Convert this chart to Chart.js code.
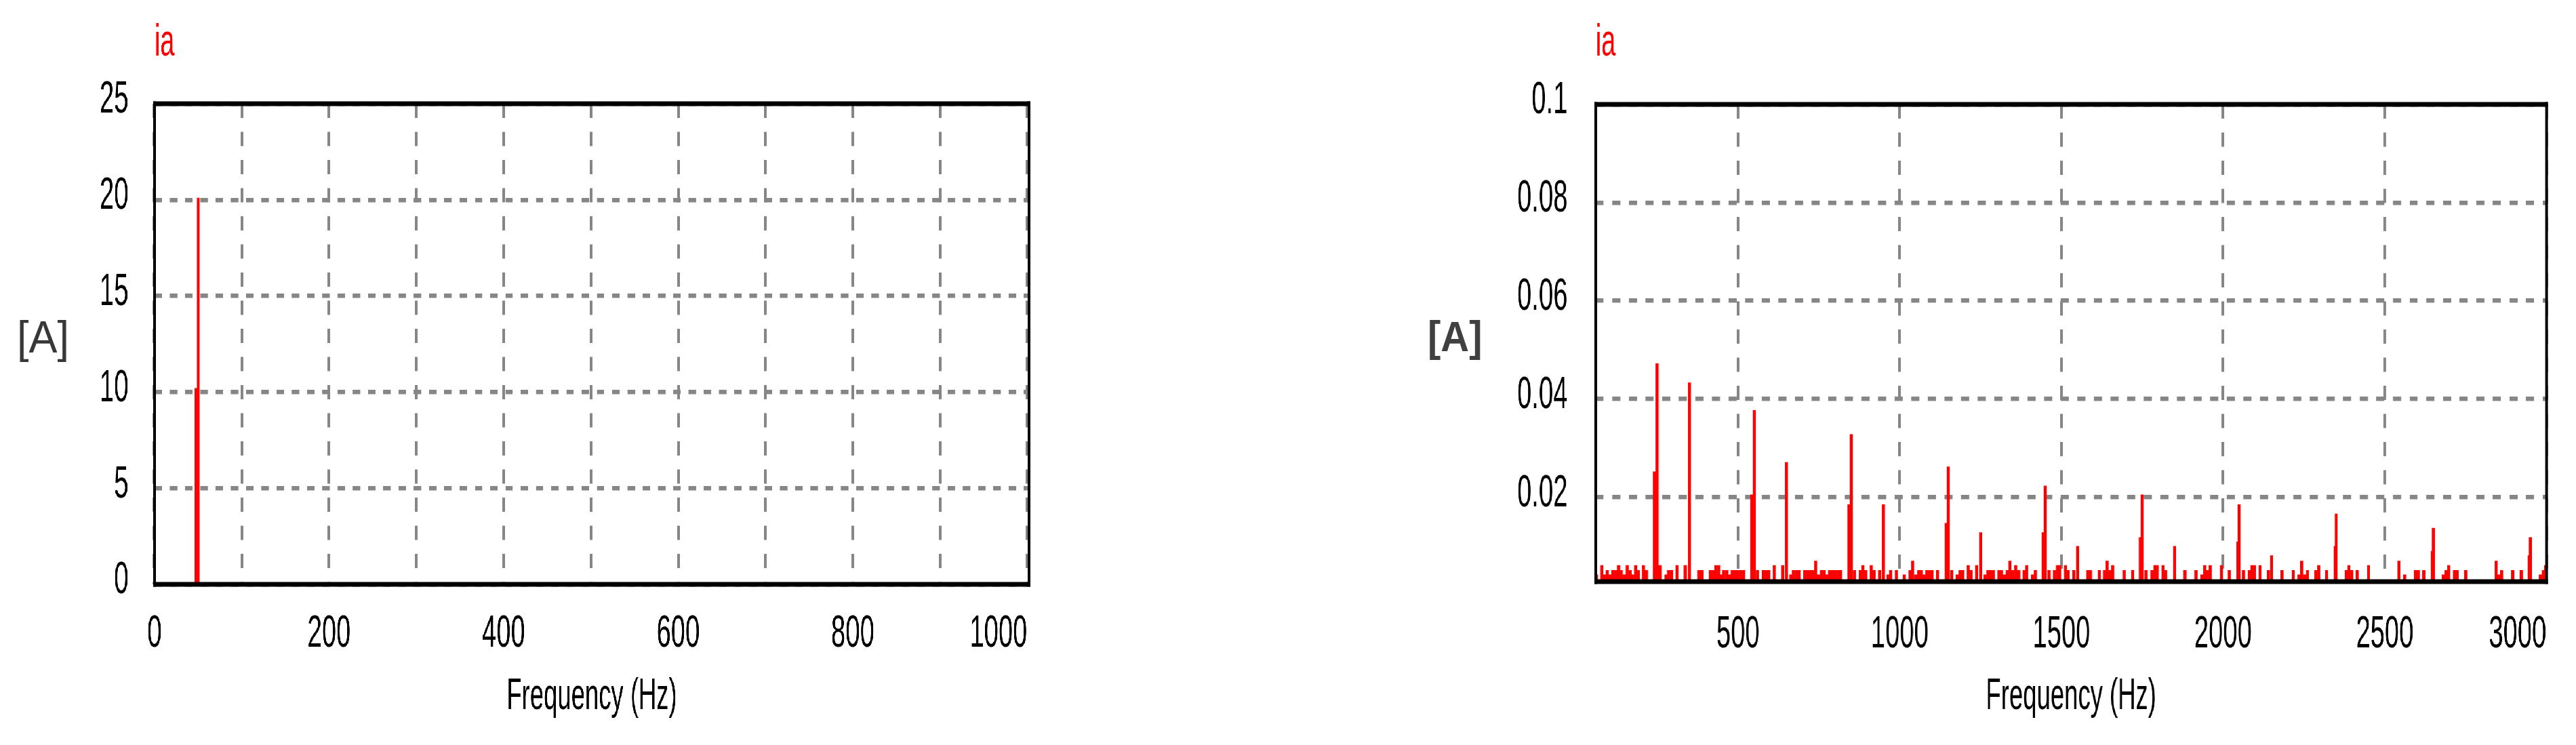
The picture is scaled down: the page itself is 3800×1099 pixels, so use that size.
<!DOCTYPE html>
<html><head><meta charset="utf-8">
<script src="https://cdn.jsdelivr.net/npm/chart.js@4.4.1/dist/chart.umd.min.js"></script>
<style>
html,body{margin:0;padding:0;background:#fff;overflow:hidden;width:3800px;height:1099px;}
#wrap{position:absolute;left:0;top:0;height:1099px;transform-origin:0 0;}
.pane{position:absolute;top:0;height:1099px;}
.unit{position:absolute;font-family:'Liberation Sans',Arial,sans-serif;line-height:1;white-space:nowrap;transform-origin:0 0;}
</style></head><body>
<div id="wrap"><div class="pane" id="p1"><canvas id="c1"></canvas></div><div class="pane" id="p2"><canvas id="c2"></canvas></div></div>
<div class="unit" id="u1"></div><div class="unit" id="u2"></div>
<script>
// ---------------- data ----------------
const titleText = 'ia';
const xTitleText = 'Frequency (Hz)';
const unitText = '[A]';

// left chart: full spectrum 0-1000 Hz
const leftFreqs = [47.3, 50];
const leftAmps  = [10.2, 20.1];
const leftYTickVals  = [0, 5, 10, 15, 20, 25];
const leftYTickText  = ['0', '5', '10', '15', '20', '25'];
const leftXGridVals  = [0, 100, 200, 300, 400, 500, 600, 700, 800, 900, 1000];
const leftXLabelVals = [0, 200, 400, 600, 800, 1000];
const leftXLabelText = ['0', '200', '400', '600', '800', '1000'];

// right chart: harmonics (zoomed)
const peakFreqs = [250, 350, 550, 650, 850, 950, 1150, 1250, 1450, 1550, 1750, 1850, 2050, 2150, 2350, 2650, 2950];
const peakAmps  = [0.0472, 0.0433, 0.0377, 0.0271, 0.0328, 0.0185, 0.0262, 0.0128, 0.0223, 0.0100, 0.0205, 0.0100, 0.0185, 0.0081, 0.0166, 0.0137, 0.0118];
const sideFreqs = [242, 542, 843, 1144, 1444, 1744, 2046, 2347, 2647, 2947];
const sideAmps  = [0.0252, 0.0205, 0.0185, 0.0147, 0.0128, 0.0118, 0.0109, 0.0100, 0.0090, 0.0081];
const noiseFreqs = [62,79,87,96,105,113,122,131,139,148,157,166,174,183,191,208,217,259,277,285,294,311,337,379,388,414,423,431,440,448,456,465,473,482,491,499,508,517,560,578,587,595,612,638,663,671,680,689,706,715,723,732,740,749,758,766,775,783,792,800,809,817,860,878,886,895,912,921,938,964,972,990,1014,1032,1040,
1050,1059,1067,1075,1084,1092,1100,1117,1161,1178,1187,1195,1212,1221,1238,1264,1273,1282,1290,1307,1315,1324,1333,1341,1350,1359,1368,1385,1393,1411,1420,1462,1479,1488,1495,1513,1521,1539,1582,1590,1617,1633,1642,1651,1659,1694,1720,1762,1780,1789,1796,1814,1822,1882,1916,1934,1943,1951,1960,1995,
2019,2063,2081,2089,2097,2114,2140,2182,2217,2235,2243,2252,2261,2287,2296,2320,2381,2389,2398,2415,2450,2544,2562,2595,2604,2621,2681,2690,2698,2716,2724,2751,2845,2854,2862,2896,2922,2982,2991,2998];
const noiseAmps = [0.0042,0.0061,0.0042,0.0051,0.0042,0.0051,0.0051,0.0061,0.0051,0.0042,0.0061,0.0051,0.0042,0.0061,0.0051,0.0061,0.0051,0.0061,0.0042,0.0051,0.0051,0.0061,0.0061,0.0051,0.0051,0.0051,0.0051,0.0061,0.0061,0.0042,0.0051,0.0051,0.0042,0.0051,0.0051,0.0051,0.0051,0.0051,0.0051,0.0051,0.0051,0.0051,0.0061,0.0061,0.0042,0.0051,0.0051,0.0051,0.0051,0.0051,0.0051,0.0051,0.0070,0.0042,0.0051,0.0051,0.0042,0.0051,0.0051,0.0051,0.0051,0.0051,0.0051,0.0051,0.0061,0.0051,0.0061,0.0051,0.0051,0.0042,0.0051,0.0051,0.0042,0.0051,0.0070,
0.0042,0.0051,0.0051,0.0042,0.0051,0.0051,0.0051,0.0051,0.0051,0.0042,0.0051,0.0051,0.0061,0.0051,0.0061,0.0042,0.0051,0.0051,0.0051,0.0051,0.0051,0.0042,0.0051,0.0070,0.0051,0.0061,0.0051,0.0051,0.0061,0.0042,0.0051,0.0051,0.0051,0.0061,0.0061,0.0061,0.0051,0.0051,0.0051,0.0051,0.0051,0.0051,0.0070,0.0051,0.0061,0.0051,0.0051,0.0051,0.0051,0.0061,0.0061,0.0061,0.0051,0.0051,0.0051,0.0042,0.0061,0.0051,0.0061,0.0061,
0.0051,0.0051,0.0051,0.0061,0.0061,0.0061,0.0051,0.0051,0.0051,0.0042,0.0070,0.0042,0.0051,0.0051,0.0061,0.0051,0.0051,0.0061,0.0051,0.0051,0.0061,0.0070,0.0042,0.0051,0.0051,0.0051,0.0042,0.0051,0.0061,0.0051,0.0051,0.0051,0.0070,0.0042,0.0051,0.0051,0.0051,0.0042,0.0051,0.0061];
const rightYTickVals  = [0.02, 0.04, 0.06, 0.08, 0.1];
const rightYTickText  = ['0.02', '0.04', '0.06', '0.08', '0.1'];
const rightXGridVals  = [60, 500, 1000, 1500, 2000, 2500, 3000];
const rightXLabelVals = [500, 1000, 1500, 2000, 2500, 3000];
const rightXLabelText = ['500', '1000', '1500', '2000', '2500', '3000'];

// ---------------- layout / style ----------------
const K = 0.57;                 // horizontal compression of the drawing
const W = 3800, H = 1099;
const FONT = "'Liberation Sans', Arial, sans-serif";
const RED = '#ff0000';
const GRID = '#868686';

const wrap = document.getElementById('wrap');
wrap.style.width = (W / K) + 'px';
wrap.style.transform = 'scaleX(' + K + ')';
const p1 = document.getElementById('p1'), p2 = document.getElementById('p2');
p1.style.left = '0px'; p1.style.width = (1900 / K) + 'px';
p2.style.left = (1900 / K) + 'px'; p2.style.width = (1900 / K) + 'px';

const u1 = document.getElementById('u1');
u1.textContent = unitText;
Object.assign(u1.style, {left: '25px', top: '463px', fontSize: '67px', color: '#383838', transform: 'scaleX(0.94)'});
const u2 = document.getElementById('u2');
u2.textContent = unitText;
Object.assign(u2.style, {left: '2106px', top: '465px', fontSize: '63px', fontWeight: 'bold', color: '#404040', transform: 'scaleX(0.92)'});

const framePlugin = {
  id: 'frame',
  afterDraw(chart) {
    const {ctx, chartArea: a} = chart;
    const hw = 7, vw = 4 / K;
    ctx.save();
    ctx.fillStyle = '#000';
    ctx.fillRect(a.left - vw / 2, a.top - hw / 2, a.right - a.left + vw, hw);
    ctx.fillRect(a.left - vw / 2, a.bottom - hw / 2, a.right - a.left + vw, hw);
    ctx.fillRect(a.left - vw / 2, a.top - hw / 2, vw, a.bottom - a.top + hw);
    ctx.fillRect(a.right - vw / 2, a.top - hw / 2, vw, a.bottom - a.top + hw);
    ctx.restore();
  }
};

function pts(xs, ys) { return xs.map((x, i) => ({x: x, y: ys[i]})); }

function build(id, o) {
  return new Chart(document.getElementById(id), {
    type: 'bar',
    data: { datasets: o.datasets.map(d => ({
      data: d, backgroundColor: RED, borderWidth: 0, barThickness: o.barW, grouped: false
    })) },
    options: {
      responsive: true, maintainAspectRatio: false, animation: false, devicePixelRatio: 1,
      layout: { padding: { left: o.padL, right: o.padR, top: 0, bottom: 0 } },
      plugins: {
        legend: { display: false }, tooltip: { enabled: false },
        title: { display: true, fullSize: false, text: titleText, align: 'start', color: RED,
          font: { family: FONT, size: 66, weight: 'normal' },
          padding: { top: 24.5, bottom: o.top - 24.5 - 66 * 1.2 } }
      },
      scales: {
        x: {
          type: 'linear', min: o.xMin, max: o.xMax, offset: false, bounds: 'data',
          afterBuildTicks: s => { s.ticks = o.xTicks.map(v => ({ value: v })); },
          afterFit: s => { s.height = H - o.bottom; },
          grid: { offset: false, drawTicks: false, color: GRID, lineWidth: 4 / K },
          border: { display: false, dash: [21, 20.5] },
          ticks: {
            autoSkip: false, maxRotation: 0, minRotation: 0, align: 'inner', padding: o.xPad,
            color: '#000', font: { family: FONT, size: 67 },
            callback: v => { const i = o.xLabelVals.indexOf(v); return i >= 0 ? o.xLabelText[i] : ''; }
          },
          title: { display: true, text: xTitleText, color: '#000',
            font: { family: FONT, size: 64 }, padding: { top: 0, bottom: 32 } }
        },
        y: {
          type: 'linear', min: o.yMin, max: o.yMax, bounds: 'data',
          afterBuildTicks: s => { s.ticks = o.yVals.map(v => ({ value: v })); },
          afterFit: s => { s.width = o.yW; },
          grid: { drawTicks: false, color: GRID, lineWidth: 6.5 },
          border: { display: false, dash: o.yDash },
          ticks: {
            autoSkip: false, padding: o.yPad, labelOffset: -5,
            color: '#000', font: { family: FONT, size: 67 },
            callback: v => { const i = o.yVals.indexOf(v); return i >= 0 ? o.yText[i] : ''; }
          }
        }
      }
    },
    plugins: [framePlugin]
  });
}

build('c1', {
  datasets: [pts(leftFreqs, leftAmps)],
  barW: 3.6 / K,
  padL: 28 / K, yW: 200 / K, padR: (1900 - 1518) / K, top: 153, bottom: 862,
  xMin: 0, xMax: 1002, xTicks: [-1].concat(leftXGridVals),
  xLabelVals: leftXLabelVals, xLabelText: leftXLabelText, xPad: 33,
  yMin: 0, yMax: 25, yVals: leftYTickVals, yText: leftYTickText,
  yPad: 38.5 / K, yDash: [11 / K, 11.5 / K]
});

build('c2', {
  datasets: [pts(peakFreqs, peakAmps), pts(sideFreqs, sideAmps), pts(noiseFreqs, noiseAmps)],
  barW: 4.15 / K,
  padL: 154 / K, yW: 300 / K, padR: (1900 - 1856) / K, top: 154, bottom: 858,
  xMin: 60, xMax: 3000, xTicks: rightXGridVals,
  xLabelVals: rightXLabelVals, xLabelText: rightXLabelText, xPad: 38,
  yMin: 0.0028, yMax: 0.1, yVals: rightYTickVals, yText: rightYTickText,
  yPad: 41.5 / K, yDash: [12 / K, 12.5 / K]
});
</script>
</body></html>
